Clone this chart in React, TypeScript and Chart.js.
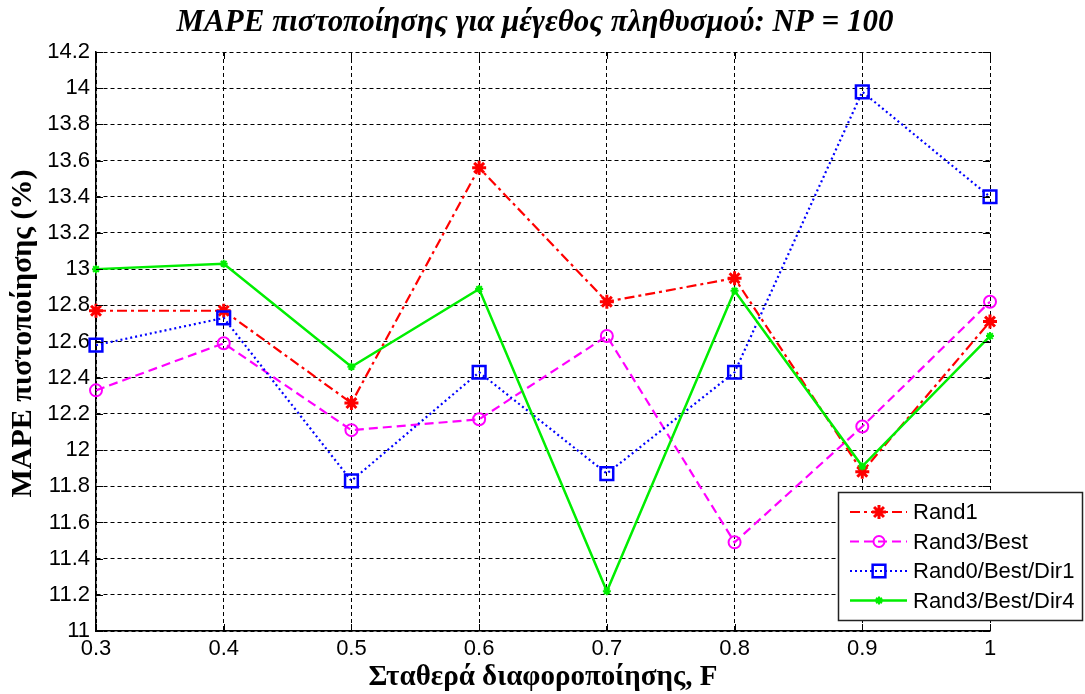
import React, { useEffect, useRef } from "react";
import { Chart, registerables } from "chart.js";

Chart.register(...registerables);

const xValues = [0.3, 0.4, 0.5, 0.6, 0.7, 0.8, 0.9, 1.0];
const xTickValues = [0.3, 0.4, 0.5, 0.6, 0.7, 0.8, 0.9, 1.0];
const xTickLabels = ["0.3", "0.4", "0.5", "0.6", "0.7", "0.8", "0.9", "1"];
const yTickValues = [11, 11.2, 11.4, 11.6, 11.8, 12, 12.2, 12.4, 12.6, 12.8, 13, 13.2, 13.4, 13.6, 13.8, 14, 14.2];
const yTickLabels = ["11", "11.2", "11.4", "11.6", "11.8", "12", "12.2", "12.4", "12.6", "12.8", "13", "13.2", "13.4", "13.6", "13.8", "14", "14.2"];

const rand1 = [12.77, 12.77, 12.26, 13.56, 12.82, 12.95, 11.88, 12.71];
const rand3Best = [12.33, 12.59, 12.11, 12.17, 12.63, 11.49, 12.13, 12.82];
const rand0BestDir1 = [12.58, 12.73, 11.83, 12.43, 11.87, 12.43, 13.98, 13.40];
const rand3BestDir4 = [13.00, 13.03, 12.46, 12.89, 11.22, 12.88, 11.91, 12.63];

const seriesNames = ["Rand1", "Rand3/Best", "Rand0/Best/Dir1", "Rand3/Best/Dir4"];

const titleText = "MAPE πιστοποίησης για μέγεθος πληθυσμού: NP = 100";
const xTitleText = "Σταθερά διαφοροποίησης, F";
const yTitleText = "MAPE πιστοποίησης (%)";

const styles = [
  { color: "#ff0000", dash: [10, 4, 3, 4], width: 2.2, point: "star", radius: 7, pw: 3 },
  { color: "#ff00ff", dash: [9, 5], width: 2.2, point: "circle", radius: 6, pw: 2 },
  { color: "#0000ff", dash: [2, 3], width: 2.2, point: "rect", radius: 9, pw: 2.5 },
  { color: "#00ee00", dash: [], width: 2.5, point: "star", radius: 4, pw: 2 },
];

function drawMarker(ctx: CanvasRenderingContext2D, kind: string, x: number, y: number, r: number, color: string, lw: number) {
  ctx.save();
  ctx.setLineDash([]);
  ctx.strokeStyle = color;
  ctx.lineWidth = lw;
  ctx.beginPath();
  if (kind === "circle") {
    ctx.arc(x, y, r, 0, Math.PI * 2);
  } else if (kind === "rect") {
    const s = r * Math.SQRT1_2;
    ctx.rect(x - s, y - s, 2 * s, 2 * s);
  } else {
    for (let i = 0; i < 4; i++) {
      const a = (i * Math.PI) / 4;
      ctx.moveTo(x - Math.cos(a) * r, y - Math.sin(a) * r);
      ctx.lineTo(x + Math.cos(a) * r, y + Math.sin(a) * r);
    }
  }
  ctx.stroke();
  ctx.restore();
}

const decorPlugin = {
  id: "decor",
  afterDraw(chart: any) {
    const ctx: CanvasRenderingContext2D = chart.ctx;
    const area = chart.chartArea;
    const cx = (area.left + area.right) / 2;
    ctx.save();
    ctx.fillStyle = "#000";
    ctx.textAlign = "center";
    ctx.textBaseline = "middle";
    ctx.font = "italic bold 31px 'Liberation Serif', 'Times New Roman', serif";
    ctx.fillText(titleText, cx - 8, 23);
    ctx.font = "bold 29px 'Liberation Serif', 'Times New Roman', serif";
    ctx.fillText(xTitleText, cx, 678);
    ctx.save();
    ctx.translate(23, (area.top + area.bottom) / 2 - 8);
    ctx.rotate(-Math.PI / 2);
    ctx.font = "bold 30px 'Liberation Serif', 'Times New Roman', serif";
    ctx.fillText(yTitleText, 0, 0);
    ctx.restore();

    // inward tick marks
    ctx.strokeStyle = "#000";
    ctx.lineWidth = 1;
    ctx.setLineDash([]);
    const xs = chart.scales.x;
    const ys = chart.scales.y;
    const tl = 7;
    ctx.beginPath();
    xTickValues.forEach((v) => {
      const px = Math.round(xs.getPixelForValue(v)) + 0.5;
      ctx.moveTo(px, area.bottom);
      ctx.lineTo(px, area.bottom - tl);
      ctx.moveTo(px, area.top);
      ctx.lineTo(px, area.top + tl);
    });
    yTickValues.forEach((v) => {
      const py = Math.round(ys.getPixelForValue(v)) + 0.5;
      ctx.moveTo(area.left, py);
      ctx.lineTo(area.left + tl, py);
      ctx.moveTo(area.right, py);
      ctx.lineTo(area.right - tl, py);
    });
    ctx.stroke();

    // legend
    const lx = 838, ly = 492, lw = 244, lh = 128;
    ctx.fillStyle = "#fff";
    ctx.fillRect(lx, ly, lw, lh);
    ctx.strokeStyle = "#222";
    ctx.lineWidth = 1.5;
    ctx.strokeRect(lx + 0.5, ly + 0.5, lw, lh);
    ctx.font = "22px 'Liberation Sans', Arial, sans-serif";
    ctx.textAlign = "left";
    ctx.textBaseline = "middle";
    seriesNames.forEach((name, i) => {
      const st = styles[i];
      const y = 512 + i * 29.5;
      ctx.save();
      ctx.strokeStyle = st.color;
      ctx.lineWidth = st.width;
      ctx.setLineDash(st.dash);
      ctx.beginPath();
      ctx.moveTo(850, y);
      ctx.lineTo(907, y);
      ctx.stroke();
      ctx.restore();
      drawMarker(ctx, st.point, 879, y, st.point === "rect" ? 9 : st.point === "circle" ? 5.5 : st.radius, st.color, st.pw);
      ctx.fillStyle = "#000";
      ctx.fillText(name, 913, y + 1);
    });
    ctx.restore();
  },
};

export default function App() {
  const canvasRef = useRef<HTMLCanvasElement | null>(null);

  useEffect(() => {
    if (!canvasRef.current) return;
    const allData = [rand1, rand3Best, rand0BestDir1, rand3BestDir4];
    const datasets = allData.map((arr, i) => {
      const st = styles[i];
      return {
        label: seriesNames[i],
        data: arr.map((v, j) => ({ x: xValues[j], y: v })),
        borderColor: st.color,
        backgroundColor: "rgba(0,0,0,0)",
        borderWidth: st.width,
        borderDash: st.dash,
        pointStyle: st.point,
        pointRadius: st.radius,
        pointBorderWidth: st.pw,
        pointBorderColor: st.color,
        pointBackgroundColor: st.point === "star" ? st.color : "rgba(0,0,0,0)",
        tension: 0,
        fill: false,
        clip: false,
        order: 4 - i,
      };
    });

    const chart = new Chart(canvasRef.current, {
      type: "line",
      data: { datasets },
      plugins: [decorPlugin],
      options: {
        animation: false,
        responsive: true,
        maintainAspectRatio: false,
        layout: { padding: { top: 52, right: 95, left: 0, bottom: 0 } },
        plugins: {
          legend: { display: false },
          title: { display: false },
          tooltip: { enabled: false },
        },
        scales: {
          x: {
            type: "linear",
            min: 0.3,
            max: 1.0,
            afterBuildTicks: (scale: any) => {
              scale.ticks = xTickValues.map((v) => ({ value: v }));
            },
            afterFit: (scale: any) => {
              scale.height = 63;
            },
            ticks: {
              color: "#000",
              padding: 5,
              maxRotation: 0,
              autoSkip: false,
              font: { family: "'Liberation Sans', Arial, sans-serif", size: 22 },
              callback: (_v: any, i: number) => xTickLabels[i],
            },
            grid: { color: "#000", lineWidth: 1, drawTicks: false },
            border: { color: "#000", width: 1.5, dash: [4, 3] },
          },
          y: {
            type: "linear",
            min: 11,
            max: 14.2,
            afterBuildTicks: (scale: any) => {
              scale.ticks = yTickValues.map((v) => ({ value: v }));
            },
            afterFit: (scale: any) => {
              scale.width = 96;
            },
            ticks: {
              color: "#000",
              padding: 6,
              autoSkip: false,
              font: { family: "'Liberation Sans', Arial, sans-serif", size: 22 },
              callback: (_v: any, i: number) => yTickLabels[i],
            },
            grid: { color: "#000", lineWidth: 1, drawTicks: false },
            border: { color: "#000", width: 1.5, dash: [4, 3] },
          },
        },
      },
    } as any);

    return () => chart.destroy();
  }, []);

  return (
    <div style={{ position: "fixed", left: 0, top: 0, width: 1085, height: 694, background: "#fff" }}>
      <canvas ref={canvasRef} />
    </div>
  );
}
